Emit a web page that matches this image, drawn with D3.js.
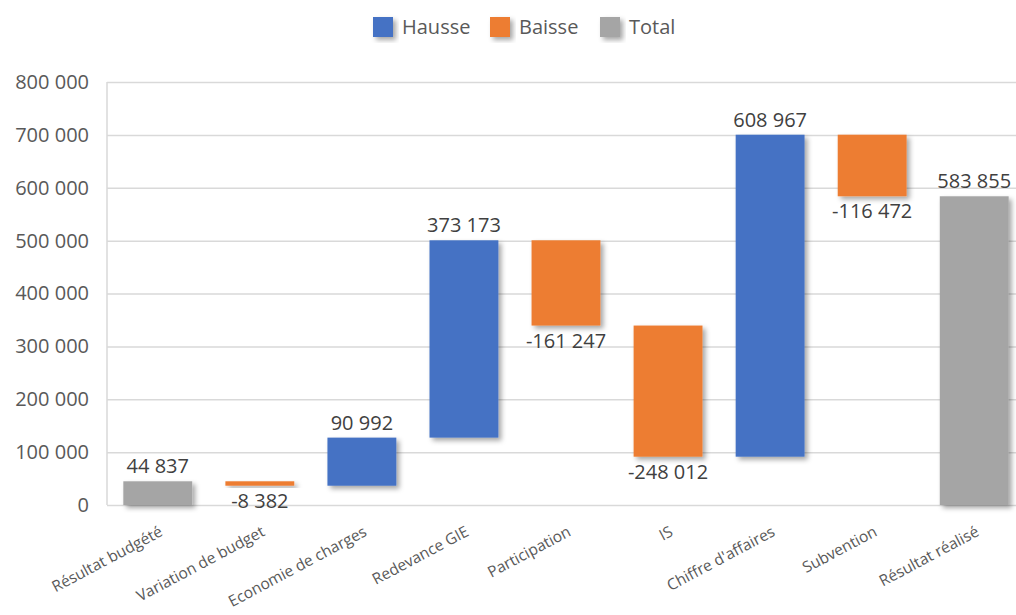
<!DOCTYPE html>
<html>
<head>
<meta charset="utf-8">
<script src="https://cdn.jsdelivr.net/npm/d3@7"></script>
<style>
  body { margin: 0; background: #fff; }
  svg, svg text { font-family: "Open Sans", sans-serif; }
</style>
</head>
<body>
<svg width="1016" height="615"></svg>
<script>
// donnees du waterfall
var categories = ["Résultat budgété", "Variation de budget", "Economie de charges", "Redevance GIE",
  "Participation", "IS", "Chiffre d'affaires", "Subvention", "Résultat réalisé"];
var valeurs = [44837, -8382, 90992, 373173, -161247, -248012, 608967, -116472, 583855];
var types = ["total", "baisse", "hausse", "hausse", "baisse", "baisse", "hausse", "baisse", "total"];
var legende = ["Hausse", "Baisse", "Total"];
var yTicks = [0, 100000, 200000, 300000, 400000, 500000, 600000, 700000, 800000];

var couleurs = { hausse: "#4472C4", baisse: "#ED7D31", total: "#A5A5A5" };

var svg = d3.select("svg");
var margin = { top: 82, right: -9, bottom: 110, left: 107 };
var width = +svg.attr("width") - margin.left - margin.right;
var height = +svg.attr("height") - margin.top - margin.bottom;

// ombre portee des barres
var defs = svg.append("defs");
var f = defs.append("filter").attr("id", "ombre").attr("x", "-20%").attr("y", "-20%").attr("width", "150%").attr("height", "150%");
f.append("feDropShadow").attr("dx", 3).attr("dy", 3).attr("stdDeviation", 2.5)
  .attr("flood-color", "#000").attr("flood-opacity", 0.35);

// calcul des debuts / fins
var courant = 0;
var data = categories.map(function (c, i) {
  var d = { cat: c, val: valeurs[i], type: types[i] };
  if (d.type === "total") {
    d.start = 0; d.end = d.val; courant = d.val;
  } else {
    d.start = courant; d.end = courant + d.val; courant = d.end;
  }
  return d;
});

var x = d3.scaleBand().domain(categories).range([0, width]).paddingInner(0.325).paddingOuter(0.16);
var y = d3.scaleLinear().domain([0, 800000]).range([height, 0]);

var g = svg.append("g").attr("transform", "translate(" + margin.left + "," + margin.top + ")");

var fmt = function (v) {
  var s = d3.format(",")(Math.abs(v)).replace(/,/g, " ");
  return (v < 0 ? "-" : "") + s;
};

// grille
g.append("g")
  .call(d3.axisLeft(y).tickValues(yTicks).tickSize(-width).tickFormat(fmt).tickPadding(18))
  .attr("font-family", null)
  .call(function (a) {
    a.select(".domain").remove();
    a.selectAll(".tick line").attr("stroke", "#d9d9d9").attr("stroke-width", 1.5);
    a.selectAll(".tick text").attr("fill", "#595959").style("font-size", "20px");
  });

g.append("line").attr("x1", 0).attr("x2", 0).attr("y1", 0).attr("y2", height)
  .attr("stroke", "#d9d9d9").attr("stroke-width", 1.5);

// lignes de liaison
g.append("g").selectAll("line").data(data.slice(0, -1)).join("line")
  .attr("x1", function (d) { return x(d.cat) + x.bandwidth(); })
  .attr("x2", function (d, i) { return x(categories[i + 1]); })
  .attr("y1", function (d) { return y(d.end); })
  .attr("y2", function (d) { return y(d.end); })
  .attr("stroke", "#d0d0d0").attr("stroke-width", 3)
  .attr("filter", "url(#ombre)");

// barres
g.append("g").selectAll("rect").data(data).join("rect")
  .attr("x", function (d) { return x(d.cat); })
  .attr("width", x.bandwidth())
  .attr("y", function (d) { return y(Math.max(d.start, d.end)); })
  .attr("height", function (d) { return Math.abs(y(d.start) - y(d.end)); })
  .attr("fill", function (d) { return couleurs[d.type]; })
  .attr("filter", "url(#ombre)");

// etiquettes
g.append("g").selectAll("text").data(data).join("text")
  .attr("x", function (d) { return x(d.cat) + x.bandwidth() / 2; })
  .attr("y", function (d) {
    return d.val < 0 ? y(d.end) + 22 : y(d.end) - 8;
  })
  .attr("text-anchor", "middle")
  .attr("fill", "#404040")
  .style("font-size", "20px")
  .text(function (d) { return fmt(d.val); });

// axe x
g.append("g")
  .attr("transform", "translate(0," + height + ")")
  .call(d3.axisBottom(x).tickSize(0).tickPadding(0))
  .attr("font-family", null)
  .call(function (a) {
    a.select(".domain").remove();
    a.selectAll(".tick text")
      .attr("fill", "#595959")
      .style("font-size", "15.5px")
      .attr("text-anchor", "end")
      .attr("dy", 0)
      .attr("transform", "translate(6,30) rotate(-28)");
  });

// legende
var leg = svg.append("g").attr("transform", "translate(373,17)");
var pos = [0, 117, 227];
legende.forEach(function (l, i) {
  var it = leg.append("g").attr("transform", "translate(" + pos[i] + ",0)");
  it.append("rect").attr("width", 20).attr("height", 20)
    .attr("fill", couleurs[l.toLowerCase()]).attr("filter", "url(#ombre)");
  it.append("text").attr("x", 29).attr("y", 17).attr("fill", "#595959")
    .style("font-size", "20px").text(l);
});
</script>
</body>
</html>
